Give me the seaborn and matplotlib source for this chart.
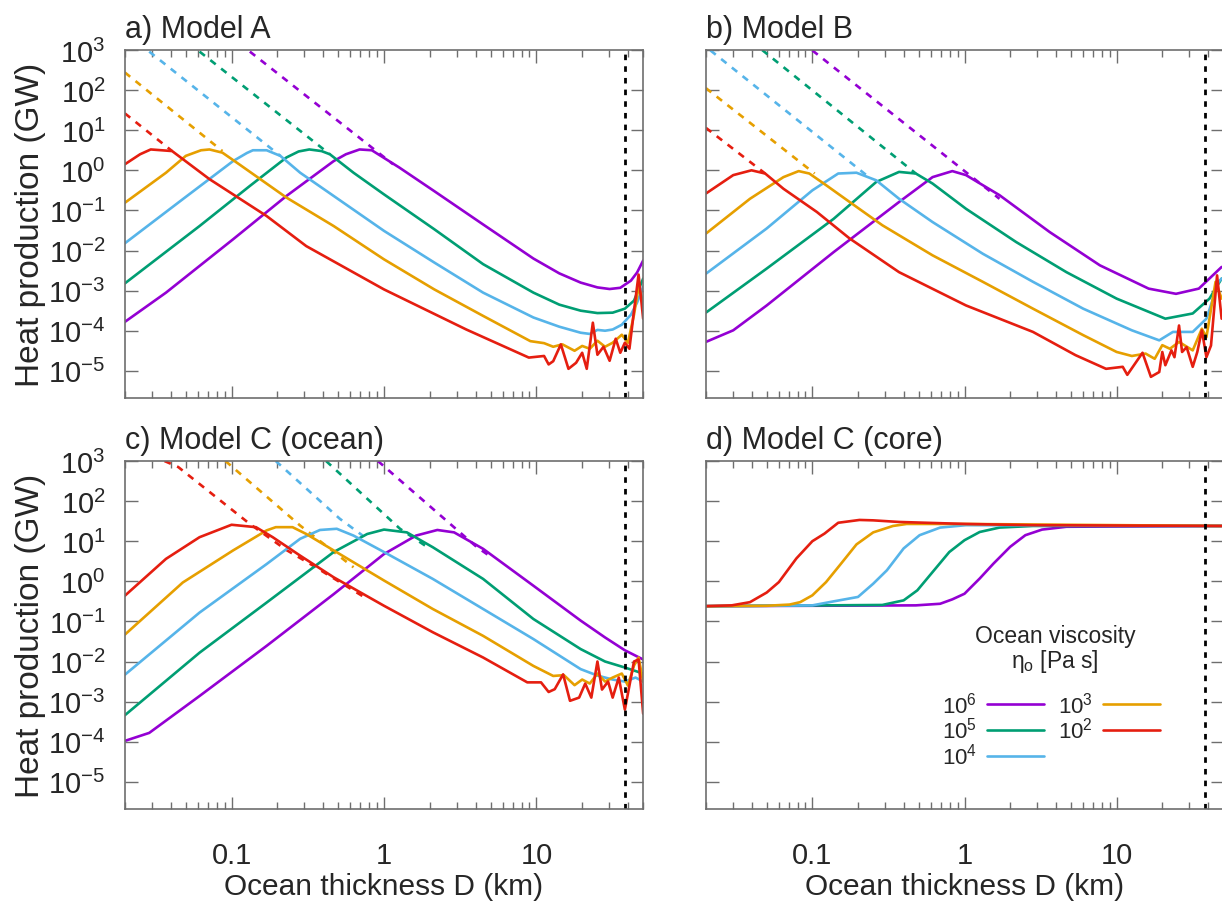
"""
Heat production vs ocean thickness, four models (gnuplot-style panels)
"""

import numpy as np
import pandas as pd
import matplotlib
matplotlib.use("Agg")
import matplotlib.pyplot as plt
import seaborn as sns
from matplotlib.ticker import FixedLocator, FixedFormatter, NullLocator, LogLocator

# viscosity keys, drawing order purple -> red
VISC = ["1e6", "1e5", "1e4", "1e3", "1e2"]
COLORS = {"1e6": "#9400d3", "1e5": "#009e73", "1e4": "#56b4e9",
          "1e3": "#e69f00", "1e2": "#e51e10"}
LEG_LABELS = {"1e6": r"10$^{6}$", "1e5": r"10$^{5}$", "1e4": r"10$^{4}$",
              "1e3": r"10$^{3}$", "1e2": r"10$^{2}$"}

D_SHELL = 38.0  # km, vertical dashed marker

# all points are (log10 D [km], log10 P [GW])
# ---- a) Model A ----
a_1e6 = [(-1.70, -3.78), (-1.43, -3.05), (-0.99, -1.72), (-0.64, -0.64), (-0.33, 0.23),
         (-0.25, 0.40), (-0.16, 0.52), (-0.08, 0.50), (0.10, 0.07), (0.33, -0.52),
         (0.65, -1.35), (0.98, -2.20), (1.15, -2.57), (1.29, -2.80), (1.40, -2.92),
         (1.48, -2.96), (1.55, -2.93), (1.62, -2.75), (1.66, -2.55), (1.70, -2.25)]
a_1e5 = [(-1.70, -2.82), (-1.21, -1.39), (-0.88, -0.39), (-0.64, 0.32), (-0.56, 0.47),
         (-0.49, 0.52), (-0.41, 0.48), (-0.355, 0.40), (-0.20, -0.06), (0.0, -0.60),
         (0.33, -1.47), (0.65, -2.34), (0.98, -3.05), (1.15, -3.35), (1.29, -3.50),
         (1.40, -3.56), (1.50, -3.55), (1.58, -3.45), (1.64, -3.25), (1.70, -2.70)]
a_1e4 = [(-1.70, -1.82), (-1.32, -0.72), (-0.99, 0.23), (-0.90, 0.43), (-0.86, 0.50),
         (-0.77, 0.50), (-0.68, 0.36), (-0.55, -0.06), (-0.33, -0.64), (0.0, -1.51),
         (0.33, -2.30), (0.65, -3.05), (0.98, -3.67), (1.15, -3.90), (1.29, -4.05),
         (1.35, -4.08), (1.40, -3.98), (1.45, -4.00), (1.50, -3.97), (1.56, -3.85),
         (1.62, -3.60), (1.66, -3.30), (1.70, -2.90)]
a_1e3 = [(-1.70, -0.81), (-1.43, -0.06), (-1.30, 0.36), (-1.20, 0.50), (-1.145, 0.52),
         (-1.06, 0.44), (-0.95, 0.15), (-0.64, -0.68), (-0.33, -1.39), (0.0, -2.22),
         (0.33, -2.97), (0.65, -3.63), (0.96, -4.26), (1.05, -4.31), (1.11, -4.40),
         (1.17, -4.34), (1.25, -4.50), (1.30, -4.38), (1.35, -4.45), (1.40, -4.25),
         (1.45, -4.40), (1.50, -4.30), (1.56, -4.10), (1.60, -4.30), (1.64, -3.60),
         (1.67, -2.90), (1.70, -3.30)]
a_1e2 = [(-1.70, 0.15), (-1.60, 0.40), (-1.53, 0.52), (-1.39, 0.48), (-1.145, -0.22),
         (-0.77, -1.14), (-0.51, -1.89), (0.0, -2.97), (0.54, -3.97), (0.95, -4.67),
         (1.05, -4.63), (1.08, -4.84), (1.11, -4.76), (1.16, -4.34), (1.21, -4.95),
         (1.26, -4.80), (1.30, -4.55), (1.33, -4.95), (1.37, -3.80), (1.40, -4.60),
         (1.44, -4.40), (1.48, -4.75), (1.52, -4.20), (1.55, -4.55), (1.58, -4.30),
         (1.61, -4.45), (1.64, -3.50), (1.67, -2.60), (1.70, -3.70)]
a_dash = {"1e6": [(-0.88, 2.96), (0.06, 0.15)],
          "1e5": [(-1.21, 2.96), (-0.355, 0.40)],
          "1e4": [(-1.54, 2.96), (-0.68, 0.36)],
          "1e3": [(-1.70, 2.44), (-1.06, 0.48)],
          "1e2": [(-1.70, 1.42), (-1.39, 0.48)]}

# ---- b) Model B ----
b_1e6 = [(-1.70, -4.28), (-1.52, -3.99), (-1.30, -3.37), (-0.86, -2.04), (-0.43, -0.79),
         (-0.21, -0.17), (-0.08, -0.02), (0.01, -0.12), (0.23, -0.62), (0.56, -1.54),
         (0.89, -2.37), (1.21, -2.95), (1.39, -3.08), (1.54, -2.95), (1.69, -2.41)]
b_1e5 = [(-1.70, -3.55), (-1.30, -2.45), (-0.86, -1.21), (-0.58, -0.29), (-0.43, -0.04),
         (-0.32, -0.08), (-0.21, -0.33), (0.01, -0.96), (0.34, -1.79), (0.67, -2.54),
         (1.0, -3.20), (1.32, -3.70), (1.50, -3.57), (1.61, -3.20), (1.69, -2.70)]
b_1e4 = [(-1.70, -2.58), (-1.30, -1.45), (-1.0, -0.50), (-0.83, -0.08), (-0.71, -0.06),
         (-0.58, -0.25), (-0.43, -0.71), (-0.21, -1.29), (0.12, -2.08), (0.45, -2.78),
         (0.78, -3.45), (1.10, -3.99), (1.28, -4.24), (1.37, -4.03), (1.50, -4.03),
         (1.59, -3.70), (1.67, -2.78), (1.69, -2.70)]
b_1e3 = [(-1.70, -1.58), (-1.41, -0.71), (-1.19, -0.17), (-1.09, -0.02), (-1.02, -0.08),
         (-0.91, -0.37), (-0.755, -0.79), (-0.54, -1.37), (-0.21, -2.12), (0.12, -2.78),
         (0.45, -3.45), (0.78, -4.11), (1.0, -4.53), (1.10, -4.63), (1.19, -4.57),
         (1.25, -4.70), (1.30, -4.36), (1.35, -4.45), (1.41, -4.28), (1.50, -4.49),
         (1.56, -3.95), (1.59, -4.16), (1.65, -2.78), (1.69, -3.20)]
b_1e2 = [(-1.70, -0.58), (-1.52, -0.12), (-1.40, 0.0), (-1.31, -0.08), (-1.19, -0.46),
         (-1.08, -0.75), (-0.97, -1.04), (-0.755, -1.70), (-0.43, -2.54), (0.01, -3.37),
         (0.45, -4.03), (0.73, -4.61), (0.93, -4.95), (1.04, -4.90), (1.07, -5.10),
         (1.17, -4.55), (1.225, -5.15), (1.28, -5.03), (1.30, -4.53), (1.32, -4.86),
         (1.36, -4.49), (1.38, -4.66), (1.41, -3.87), (1.43, -4.53), (1.46, -4.41),
         (1.50, -4.90), (1.53, -4.53), (1.56, -3.99), (1.59, -4.66), (1.62, -4.37),
         (1.66, -2.62), (1.69, -3.70)]
b_dash = {"1e6": [(-1.0, 2.99), (0.23, -0.71)],
          "1e5": [(-1.33, 3.0), (-0.32, -0.08)],
          "1e4": [(-1.67, 2.99), (-0.645, -0.12)],
          "1e3": [(-1.70, 2.05), (-0.985, -0.08)],
          "1e2": [(-1.70, 1.06), (-1.31, -0.08)]}

# ---- c) Model C (ocean) ----
c_1e6 = [(-1.70, -3.98), (-1.54, -3.78), (-1.21, -2.86), (-0.77, -1.61), (-0.33, -0.32),
         (0.0, 0.68), (0.21, 1.14), (0.35, 1.28), (0.46, 1.22), (0.65, 0.81),
         (0.98, -0.11), (1.29, -0.98), (1.45, -1.40), (1.58, -1.72), (1.70, -1.95)]
c_1e5 = [(-1.70, -3.34), (-1.21, -1.78), (-0.77, -0.53), (-0.33, 0.73), (-0.11, 1.18),
         (0.0, 1.29), (0.15, 1.22), (0.32, 0.85), (0.65, 0.06), (0.98, -0.94),
         (1.29, -1.69), (1.45, -2.00), (1.58, -2.15), (1.70, -2.30)]
c_1e4 = [(-1.70, -2.33), (-1.21, -0.78), (-0.77, 0.43), (-0.55, 1.06), (-0.42, 1.28),
         (-0.31, 1.31), (-0.20, 1.14), (0.0, 0.73), (0.32, 0.06), (0.65, -0.69),
         (0.98, -1.44), (1.29, -2.19), (1.40, -2.35), (1.50, -2.45), (1.58, -2.50),
         (1.65, -2.40), (1.70, -2.50)]
c_1e3 = [(-1.70, -1.33), (-1.32, -0.03), (-0.99, 0.77), (-0.77, 1.27), (-0.71, 1.35),
         (-0.60, 1.35), (-0.51, 1.18), (-0.33, 0.77), (0.0, 0.02), (0.32, -0.69),
         (0.65, -1.36), (0.98, -2.11), (1.11, -2.36), (1.18, -2.34), (1.25, -2.59),
         (1.30, -2.45), (1.35, -2.55), (1.40, -2.30), (1.45, -2.50), (1.50, -2.40),
         (1.56, -2.30), (1.60, -2.60), (1.64, -2.10), (1.67, -1.90), (1.70, -2.50)]
c_1e2 = [(-1.70, -0.36), (-1.43, 0.56), (-1.21, 1.10), (-1.0, 1.41), (-0.84, 1.35),
         (-0.73, 1.10), (-0.55, 0.64), (-0.33, 0.10), (0.0, -0.61), (0.32, -1.27),
         (0.65, -1.90), (0.94, -2.52), (1.03, -2.52), (1.08, -2.76), (1.12, -2.69),
         (1.175, -2.32), (1.22, -2.98), (1.28, -2.90), (1.32, -2.55), (1.36, -2.90),
         (1.40, -2.00), (1.43, -2.70), (1.47, -2.50), (1.50, -2.90), (1.54, -2.40),
         (1.58, -3.20), (1.61, -2.60), (1.64, -2.00), (1.67, -1.95), (1.70, -3.30)]
c_dash = {"1e6": [(-0.04, 3.0), (0.61, 0.85), (0.69, 0.64)],
          "1e5": [(-0.38, 3.0), (0.105, 1.31), (0.27, 0.89)],
          "1e4": [(-0.71, 3.0), (-0.29, 1.56), (-0.14, 1.14)],
          "1e3": [(-1.04, 3.0), (-0.55, 1.39), (-0.20, 0.35)],
          "1e2": [(-1.44, 3.0), (-1.35, 2.85), (-0.88, 1.43), (-0.64, 0.78),
                  (-0.465, 0.39), (-0.11, -0.44)]}

# ---- d) Model C (core) ----
d_1e6 = [(-1.70, -0.62), (-0.32, -0.60), (-0.16, -0.56), (-0.08, -0.45), (0.0, -0.31),
         (0.10, 0.07), (0.19, 0.44), (0.30, 0.86), (0.40, 1.15), (0.51, 1.29),
         (0.67, 1.36), (1.69, 1.38)]
d_1e5 = [(-1.70, -0.62), (-0.54, -0.59), (-0.40, -0.475), (-0.31, -0.225), (-0.21, 0.23),
         (-0.10, 0.73), (0.0, 1.025), (0.10, 1.23), (0.23, 1.34), (0.45, 1.38), (1.69, 1.38)]
d_1e4 = [(-1.70, -0.62), (-1.0, -0.60), (-0.86, -0.50), (-0.70, -0.39), (-0.60, -0.06),
         (-0.51, 0.275), (-0.40, 0.82), (-0.295, 1.15), (-0.16, 1.34), (0.01, 1.40),
         (1.69, 1.38)]
d_1e3 = [(-1.70, -0.62), (-1.30, -0.61), (-1.15, -0.58), (-1.08, -0.52), (-1.0, -0.35),
         (-0.91, -0.02), (-0.82, 0.40), (-0.71, 0.92), (-0.60, 1.22), (-0.47, 1.38),
         (-0.38, 1.43), (0.01, 1.43), (1.69, 1.38)]
d_1e2 = [(-1.70, -0.62), (-1.53, -0.60), (-1.41, -0.52), (-1.30, -0.28), (-1.22, -0.02),
         (-1.105, 0.57), (-1.0, 1.0), (-0.92, 1.19), (-0.83, 1.46), (-0.69, 1.53),
         (-0.60, 1.52), (-0.43, 1.48), (0.01, 1.43), (0.45, 1.40), (1.69, 1.38)]

PANELS = {
    "a": ("a) Model A", dict(zip(VISC, [a_1e6, a_1e5, a_1e4, a_1e3, a_1e2])), a_dash),
    "b": ("b) Model B", dict(zip(VISC, [b_1e6, b_1e5, b_1e4, b_1e3, b_1e2])), b_dash),
    "c": ("c) Model C (ocean)", dict(zip(VISC, [c_1e6, c_1e5, c_1e4, c_1e3, c_1e2])), c_dash),
    "d": ("d) Model C (core)", dict(zip(VISC, [d_1e6, d_1e5, d_1e4, d_1e3, d_1e2])), {}),
}

sns.set_theme(style="ticks")
plt.rcParams["font.family"] = ["Liberation Sans", "DejaVu Sans"]
plt.rcParams["mathtext.fontset"] = "custom"
plt.rcParams["mathtext.rm"] = "Liberation Sans"
plt.rcParams["mathtext.it"] = "Liberation Sans:italic"
plt.rcParams["mathtext.default"] = "regular"
plt.rcParams["axes.unicode_minus"] = False

AX_GREY = "#6e6e6e"
W, H = 1222, 903


def _frac(x0, y0, x1, y1):
    return [x0 / W, 1 - y1 / H, (x1 - x0) / W, (y1 - y0) / H]


def _line(ax, pts, color, dashed=False, label=None):
    arr = np.array(pts)
    df = pd.DataFrame({"D": 10 ** arr[:, 0], "P": 10 ** arr[:, 1]})
    sns.lineplot(data=df, x="D", y="P", ax=ax, color=color, lw=1.9,
                 estimator=None, sort=False, label=label,
                 linestyle=(0, (2.6, 2.6)) if dashed else "-")


fig = plt.figure(figsize=(W / 100, H / 100), dpi=100)
boxes = {"a": _frac(125, 51, 643, 399), "b": _frac(706, 51, 1223, 399),
         "c": _frac(125, 462, 643, 810), "d": _frac(706, 462, 1223, 810)}

y_ticks = [10.0 ** k for k in range(-5, 4)]
y_labels = [r"10$^{%d}$" % k for k in range(-5, 4)]

for key, (title, curves, dashes) in PANELS.items():
    ax = fig.add_axes(boxes[key])
    ax.set_xscale("log")
    ax.set_yscale("log")
    for v in VISC:
        if v in dashes:
            _line(ax, dashes[v], COLORS[v], dashed=True)
    for v in VISC:
        _line(ax, curves[v], COLORS[v], label=LEG_LABELS[v] if key == "d" else None)
    ax.axvline(D_SHELL, color="black", lw=2.0, ls=(0, (2.0, 2.2)))

    ax.set_xlim(0.02, 50)
    ax.set_ylim(2.1e-6, 1e3)
    ax.xaxis.set_major_locator(FixedLocator([0.1, 1, 10]))
    ax.xaxis.set_minor_locator(LogLocator(base=10, subs=np.arange(2, 10), numticks=20))
    ax.yaxis.set_major_locator(FixedLocator(y_ticks))
    ax.yaxis.set_minor_locator(NullLocator())
    ax.tick_params(which="both", direction="in", top=True, right=True,
                   color=AX_GREY, width=1.0)
    ax.tick_params(which="major", length=9)
    ax.tick_params(which="minor", length=5)
    ax.tick_params(axis="y", pad=14, labelsize=21)
    ax.tick_params(axis="x", pad=23, labelsize=21)
    for s in ax.spines.values():
        s.set_color(AX_GREY)
        s.set_linewidth(1.2)

    if key in ("a", "c"):
        ax.yaxis.set_major_formatter(FixedFormatter(y_labels))
        ax.set_ylabel("Heat production (GW)", fontsize=24)
        ax.yaxis.set_label_coords(-0.152, 0.5)
    else:
        ax.set_yticklabels([])
        ax.set_ylabel("")
    if key in ("c", "d"):
        ax.xaxis.set_major_formatter(FixedFormatter(["0.1", "1", "10"]))
        ax.set_xlabel("Ocean thickness D (km)", fontsize=21.5)
        ax.xaxis.set_label_coords(0.5, -0.18)
    else:
        ax.set_xticklabels([])
        ax.set_xlabel("")
    ax.set_title(title, loc="left", fontsize=22, pad=9)

    if key == "d":
        # legend heading drawn as its own text, entries below it
        fig.text(1055 / W, 1 - 650 / H, "Ocean viscosity\n" + r"η$_\mathrm{o}$ [Pa s]",
                 ha="center", va="center", fontsize=16.5, linespacing=1.0)
        ax.legend(ncol=2, markerfirst=False, frameon=False, fontsize=16,
                  handlelength=2.6, handletextpad=0.45, columnspacing=0.6,
                  labelspacing=0.0, borderpad=0.0, loc="upper center",
                  bbox_to_anchor=(1051 / W, 1 - 681 / H),
                  bbox_transform=fig.transFigure)
    elif ax.get_legend() is not None:
        ax.get_legend().remove()

fig.savefig("out.png", dpi=100)
